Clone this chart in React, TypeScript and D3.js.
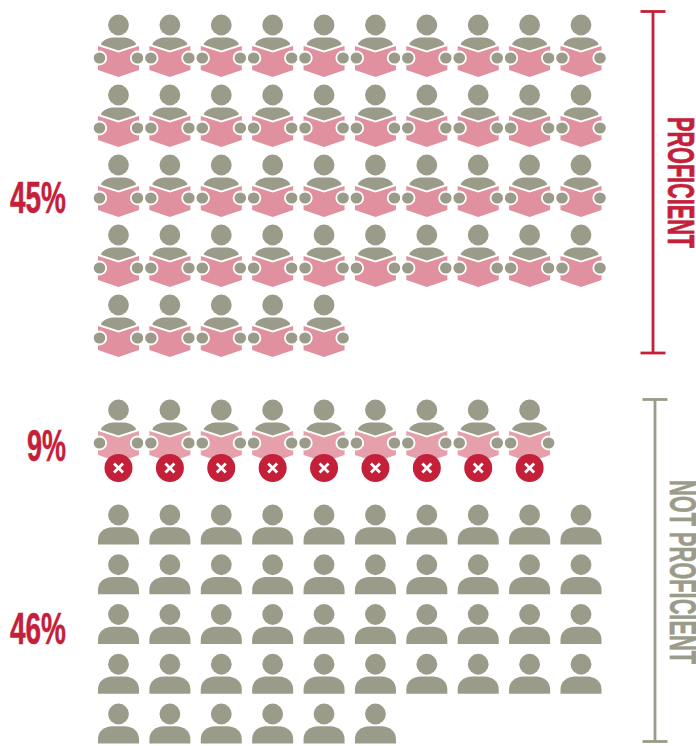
import React from "react";
import * as d3 from "d3";

const RED = "#c4203a";
const GRAY = "#9b9b8a";
const PINK = "#e0909e";
const PALE = "#e5a0ab";

const proficientCount = 45;
const strugglingCount = 9;
const notReadingCount = 46;
const perRow = 10;

const pctLabels = ["45%", "9%", "46%"];
const sideLabels = ["PROFICIENT", "NOT PROFICIENT"];

const xScale = d3.scaleLinear().domain([0, 9]).range([118.5, 581]);
const yReader = d3.scaleLinear().domain([0, 4]).range([25, 305]);
const yPerson = d3.scaleLinear().domain([0, 4]).range([515, 714]);

function Reader({ x, y, book }: { x: number; y: number; book: string }) {
  return (
    <g transform={`translate(${x},${y})`}>
      <circle r={10.4} fill={GRAY} />
      <path
        d="M-17.5,19 C-15,14.4 -9,12.6 -4,12.6 L4,12.6 C9,12.6 15,14.4 17.5,19 L17,20 L0,25.5 L-17,20 Z"
        fill={GRAY}
      />
      <path
        d="M-20.5,21 L0,27.5 L20.5,21 L20.5,45 L0,52 L-20.5,45 Z"
        fill={book}
      />
      <ellipse cx={-19} cy={33} rx={6.7} ry={6.5} fill={GRAY} stroke="#fff" strokeWidth={1.8} />
      <ellipse cx={19} cy={33} rx={6.7} ry={6.5} fill={GRAY} stroke="#fff" strokeWidth={1.8} />
    </g>
  );
}

function Badge({ x, y }: { x: number; y: number }) {
  return (
    <g transform={`translate(${x},${y})`}>
      <circle r={14} fill={RED} />
      <path d="M-4.5,-4.5 L4.5,4.5 M-4.5,4.5 L4.5,-4.5" stroke="#fff" strokeWidth={2.8} />
    </g>
  );
}

function Person({ x, y }: { x: number; y: number }) {
  return (
    <g transform={`translate(${x},${y})`}>
      <circle r={10.4} fill={GRAY} />
      <path
        d="M-20.5,29.5 L-20.5,25 C-20.5,17 -14,12.2 -6,12.2 L6,12.2 C14,12.2 20.5,17 20.5,25 L20.5,29.5 Z"
        fill={GRAY}
      />
    </g>
  );
}

function Bracket({ x, y0, y1, color }: { x: number; y0: number; y1: number; color: string }) {
  const capHalf = 12.5;
  return (
    <g stroke={color} strokeWidth={2.8} fill="none">
      <line x1={x} x2={x} y1={y0} y2={y1} />
      <line x1={x - capHalf} x2={x + capHalf} y1={y0} y2={y0} />
      <line x1={x - capHalf} x2={x + capHalf} y1={y1} y2={y1} />
    </g>
  );
}

const font = "'Liberation Sans Narrow','Liberation Sans',sans-serif";

function Pct({ text, x0, x1, base }: { text: string; x0: number; x1: number; base: number }) {
  return (
    <text
      x={x0}
      y={base}
      fontFamily={font}
      fontWeight={700}
      fontSize={44}
      fill={RED}
      stroke={RED}
      strokeWidth={0.5}
      textLength={x1 - x0}
      lengthAdjust="spacingAndGlyphs"
    >
      {text}
    </text>
  );
}

function Side({ text, x, y0, y1, color }: { text: string; x: number; y0: number; y1: number; color: string }) {
  return (
    <text
      transform={`translate(${x},${y0}) rotate(90)`}
      fontFamily={font}
      fontWeight={700}
      fontSize={37}
      fill={color}
      stroke={color}
      strokeWidth={0.7}
      textLength={y1 - y0}
      lengthAdjust="spacingAndGlyphs"
    >
      {text}
    </text>
  );
}

export default function App() {
  const readers = d3.range(proficientCount);
  const struggling = d3.range(strugglingCount);
  const persons = d3.range(notReadingCount);
  return (
    <svg
      width={696}
      height={746}
      viewBox="0 0 696 746"
      style={{ position: "fixed", left: 0, top: 0, display: "block" }}
    >
      <rect width={696} height={746} fill="#fff" />
      {readers.map((i) => (
        <Reader key={i} x={xScale(i % perRow)} y={yReader(Math.floor(i / perRow))} book={PINK} />
      ))}
      {struggling.map((i) => (
        <Reader key={i} x={xScale(i)} y={410} book={PALE} />
      ))}
      {struggling.map((i) => (
        <Badge key={i} x={xScale(i)} y={468} />
      ))}
      {persons.map((i) => (
        <Person key={i} x={xScale(i % perRow)} y={yPerson(Math.floor(i / perRow))} />
      ))}
      <Pct text={pctLabels[0]} x0={10} x1={66} base={213} />
      <Pct text={pctLabels[1]} x0={27} x1={66} base={461} />
      <Pct text={pctLabels[2]} x0={10} x1={66} base={644} />
      <Bracket x={653} y0={11.5} y1={353} color={RED} />
      <Bracket x={655} y0={399.5} y1={741.5} color={GRAY} />
      <Side text={sideLabels[0]} x={667.5} y0={117} y1={248} color={RED} />
      <Side text={sideLabels[1]} x={670} y0={480} y1={664} color={GRAY} />
    </svg>
  );
}
